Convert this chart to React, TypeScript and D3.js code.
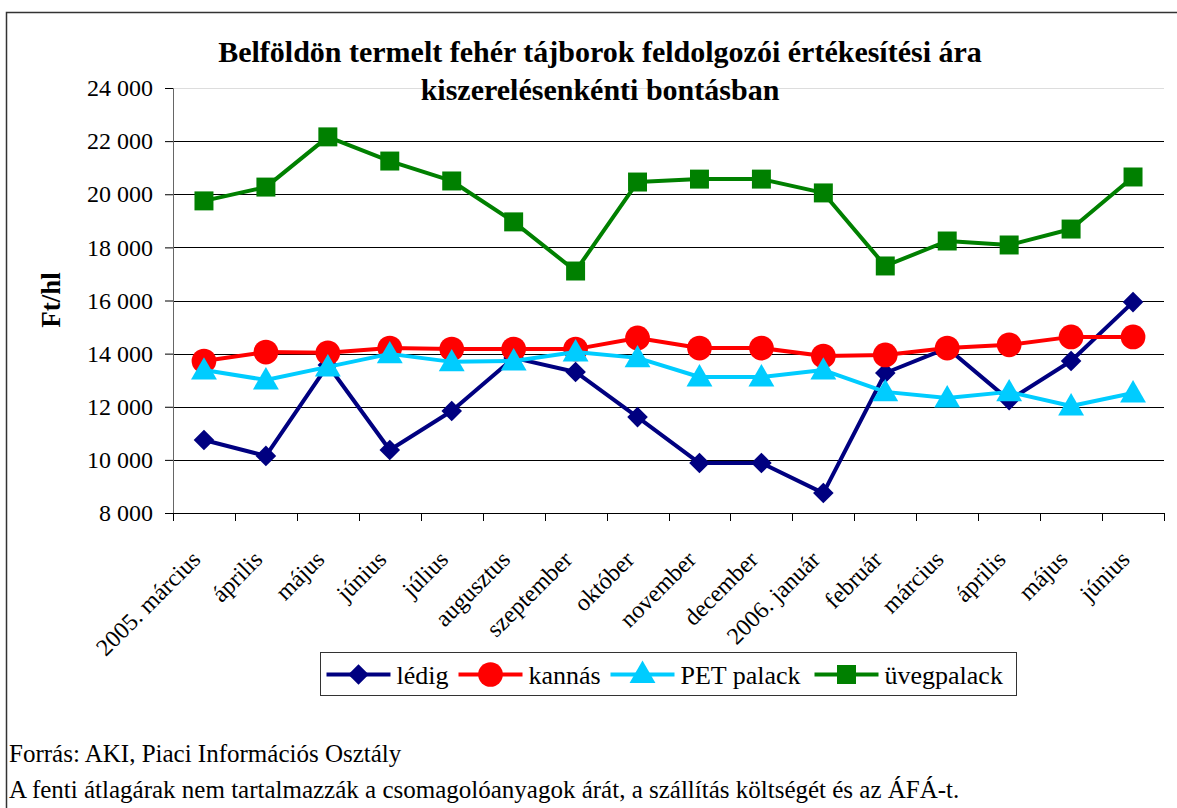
import React, { useEffect, useRef } from 'react';
import * as d3 from 'd3';

const months = [
  '2005. március', 'április', 'május', 'június', 'július', 'augusztus',
  'szeptember', 'október', 'november', 'december', '2006. január',
  'február', 'március', 'április', 'május', 'június',
];

const ledig = [10750, 10150, 13570, 10370, 11840, 13840, 13310, 11610, 9880, 9880, 8750, 13270, 14210, 12250, 13720, 15940];
const kannas = [13720, 14060, 14030, 14210, 14170, 14170, 14170, 14590, 14210, 14210, 13910, 13950, 14210, 14330, 14630, 14630];
const petPalack = [13380, 13010, 13500, 13990, 13690, 13720, 14060, 13840, 13120, 13120, 13380, 12560, 12330, 12560, 12030, 12520];
const uvegpalack = [19750, 20270, 22160, 21250, 20500, 18960, 17110, 20460, 20570, 20570, 20050, 17300, 18240, 18090, 18690, 20650];

const yTicks = [8000, 10000, 12000, 14000, 16000, 18000, 20000, 22000, 24000];

const seriesList = [
  { name: 'lédig', color: '#000080', marker: 'diamond', values: ledig },
  { name: 'kannás', color: '#FF0000', marker: 'circle', values: kannas },
  { name: 'PET palack', color: '#00CCFF', marker: 'triangle', values: petPalack },
  { name: 'üvegpalack', color: '#008000', marker: 'square', values: uvegpalack },
];

const titleLines = [
  'Belföldön termelt fehér tájborok feldolgozói értékesítési ára',
  'kiszerelésenkénti bontásban',
];
const footerLines = [
  'Forrás: AKI, Piaci Információs Osztály',
  'A fenti átlagárak nem tartalmazzák a csomagolóanyagok árát, a szállítás költségét és az ÁFÁ-t.',
];

const width = 1177;
const height = 808;
const font = '"Liberation Serif", "Times New Roman", serif';

const symbolFor = (marker: string) => {
  if (marker === 'diamond') return d3.symbol().type(d3.symbolDiamond2).size(270);
  if (marker === 'circle') return d3.symbol().type(d3.symbolCircle).size(480);
  if (marker === 'triangle') return d3.symbol().type(d3.symbolTriangle).size(290);
  return d3.symbol().type(d3.symbolSquare).size(360);
};

const App: React.FC = () => {
  const svgRef = useRef<SVGSVGElement>(null);

  useEffect(() => {
    if (!svgRef.current) return;
    const svg = d3.select(svgRef.current);
    svg.selectAll('*').remove();

    const margin = { top: 88, right: 13, bottom: 295, left: 173 };
    const innerWidth = width - margin.left - margin.right;
    const innerHeight = height - margin.top - margin.bottom;

    // outer frame (right/bottom edges fall outside the picture)
    svg.append('rect')
      .attr('x', 6.5).attr('y', 12.5)
      .attr('width', 1300).attr('height', 1000)
      .attr('fill', 'white')
      .attr('stroke', '#333').attr('stroke-width', 1.5);

    const xScale = d3.scaleBand<string>()
      .domain(months.map((_, i) => String(i)))
      .range([0, innerWidth]);

    const yScale = d3.scaleLinear()
      .domain([8000, 24000])
      .range([innerHeight, 0]);

    const g = svg.append('g')
      .attr('transform', `translate(${margin.left},${margin.top})`);

    // grid lines
    g.selectAll('.grid')
      .data(yTicks.filter(t => t > 8000))
      .enter().append('line')
      .attr('x1', 0).attr('x2', innerWidth)
      .attr('y1', d => Math.round(yScale(d)) + 0.5)
      .attr('y2', d => Math.round(yScale(d)) + 0.5)
      .attr('stroke', d => (d === 24000 ? '#ddd' : '#000'))
      .attr('stroke-width', 1);

    // y axis
    const yAxis = g.append('g')
      .call(d3.axisLeft(yScale)
        .tickValues(yTicks)
        .tickSize(8)
        .tickPadding(12)
        .tickFormat(d => d3.format(',')(d as number).replace(',', ' ')));
    yAxis.select('.domain').attr('stroke', '#666');
    yAxis.selectAll('.tick line').attr('stroke', '#000');
    yAxis.selectAll('text')
      .style('font-family', font)
      .style('font-size', '24px')
      .attr('fill', '#000');

    // x axis: ticks at category boundaries
    g.append('line')
      .attr('x1', 0).attr('x2', innerWidth)
      .attr('y1', innerHeight + 0.5).attr('y2', innerHeight + 0.5)
      .attr('stroke', '#000');
    g.selectAll('.xtick')
      .data(d3.range(months.length + 1))
      .enter().append('line')
      .attr('x1', i => Math.round(i * xScale.step()) + 0.5)
      .attr('x2', i => Math.round(i * xScale.step()) + 0.5)
      .attr('y1', innerHeight).attr('y2', innerHeight + 8)
      .attr('stroke', '#000');

    const cx = (i: number) => (xScale(String(i)) as number) + xScale.bandwidth() / 2;

    g.selectAll('.xlabel')
      .data(months)
      .enter().append('text')
      .attr('transform', (_, i) => `translate(${cx(i) - 2},${innerHeight + 48}) rotate(-45)`)
      .attr('text-anchor', 'end')
      .style('font-family', font)
      .style('font-size', '24px')
      .text(d => d);

    // series
    const line = d3.line<number>()
      .x((_, i) => cx(i))
      .y(d => yScale(d));

    seriesList.forEach(s => {
      g.append('path')
        .datum(s.values)
        .attr('fill', 'none')
        .attr('stroke', s.color)
        .attr('stroke-width', 4)
        .attr('stroke-linejoin', 'round')
        .attr('d', line);

      g.selectAll(`.m-${s.marker}`)
        .data(s.values)
        .enter().append('path')
        .attr('class', `m-${s.marker}`)
        .attr('transform', (d, i) => `translate(${cx(i)},${yScale(d) + (s.marker === 'triangle' ? 2 : 0)})`)
        .attr('d', symbolFor(s.marker)())
        .attr('fill', s.color);
    });

    // title
    svg.append('text')
      .attr('x', 600)
      .attr('y', 62)
      .attr('text-anchor', 'middle')
      .style('font-family', font)
      .style('font-size', '30px')
      .style('font-weight', 'bold')
      .selectAll('tspan')
      .data(titleLines)
      .enter().append('tspan')
      .attr('x', 600)
      .attr('dy', (_, i) => (i === 0 ? 0 : 38))
      .text(d => d);

    // y axis label
    svg.append('text')
      .attr('transform', 'rotate(-90)')
      .attr('x', -300)
      .attr('y', 60)
      .attr('text-anchor', 'middle')
      .style('font-family', font)
      .style('font-size', '27px')
      .style('font-weight', 'bold')
      .text('Ft/hl');

    // legend
    const legend = svg.append('g').attr('transform', 'translate(320.5,652.5)');
    legend.append('rect')
      .attr('width', 696).attr('height', 43)
      .attr('fill', 'white')
      .attr('stroke', '#333').attr('stroke-width', 1);

    const legendX = [6, 138, 290, 494];
    seriesList.forEach((s, i) => {
      const row = legend.append('g').attr('transform', `translate(${legendX[i]},22)`);
      row.append('line')
        .attr('x1', 0).attr('x2', 64)
        .attr('stroke', s.color).attr('stroke-width', 4);
      row.append('path')
        .attr('transform', `translate(32,${s.marker === 'triangle' ? 1 : 0})`)
        .attr('d', symbolFor(s.marker)())
        .attr('fill', s.color);
      row.append('text')
        .attr('x', 70)
        .attr('y', 9)
        .style('font-family', font)
        .style('font-size', '26px')
        .text(s.name);
    });

    // footer
    svg.selectAll('.footer')
      .data(footerLines)
      .enter().append('text')
      .attr('x', 9)
      .attr('y', (_, i) => 762 + i * 36)
      .style('font-family', font)
      .style('font-size', '25px')
      .text(d => d);
  }, []);

  return (
    <svg
      ref={svgRef}
      width={width}
      height={height}
      style={{ position: 'absolute', left: 0, top: 0, background: 'white' }}
    />
  );
};

export default App;
